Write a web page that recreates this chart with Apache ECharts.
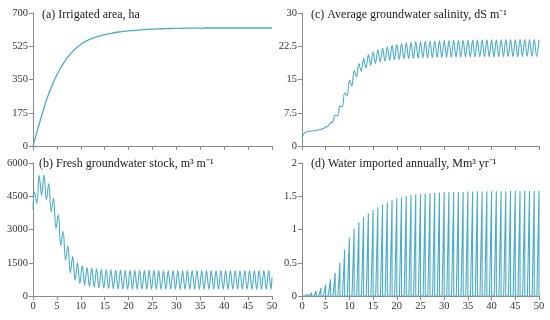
<!DOCTYPE html>
<html>
<head>
<meta charset="utf-8">
<script src="https://cdn.jsdelivr.net/npm/echarts@6/dist/echarts.min.js"></script>
<style>
html,body{margin:0;padding:0;background:#fff;}
#chart{width:550px;height:320px;}
</style>
</head>
<body>
<div id="chart"></div>
<script>
// ---- Data ----
const panelTitles = [
  "(a) Irrigated area, ha",
  "(b) Fresh groundwater stock, m\u00B3 m\u207B\u00B9",
  "(c) Average groundwater salinity, dS m\u207B\u00B9",
  "(d) Water imported annually, Mm\u00B3 yr\u207B\u00B9"
];
const xTicks = [0, 5, 10, 15, 20, 25, 30, 35, 40, 45, 50];
const yTicksA = [0, 175, 350, 525, 700];
const yTicksB = [0, 1500, 3000, 4500, 6000];
const yTicksC = [0, 7.5, 15, 22.5, 30];
const yTicksD = [0, 0.5, 1, 1.5, 2];

// (a) irrigated area at years 0..50
const irrigatedArea = [
  0, 90, 175, 255, 320, 375, 420, 458, 490, 515,
  535, 551, 563, 572, 580, 586, 591, 596, 600, 603,
  606, 608, 610, 612, 614, 615, 616, 617, 618, 618.5,
  619, 619.5, 620, 620, 620.5, 620.5, 621, 621, 621, 621,
  621, 621, 621, 621, 621, 621, 621, 621, 621, 621, 621
];

// (b) fresh groundwater stock: start, yearly peaks, yearly troughs, end
const stockStart = 3900;
const stockPeaks = [
  4700, 5450, 5470, 5070, 4420, 3670, 2920, 2260, 1790, 1500,
  1370, 1300, 1260, 1230, 1210, 1195, 1185, 1175, 1170, 1165,
  1162, 1160, 1158, 1156, 1155, 1154, 1153, 1152, 1151, 1150,
  1150, 1150, 1150, 1150, 1150, 1150, 1150, 1150, 1150, 1150,
  1150, 1150, 1150, 1150, 1150, 1150, 1150, 1150, 1150, 1150
];
const stockTroughs = [
  4180, 4540, 4350, 3790, 3040, 2290, 1610, 1040, 710, 560,
  480, 430, 395, 370, 350, 335, 325, 318, 312, 308,
  305, 303, 302, 301, 300, 300, 300, 300, 300, 300,
  300, 300, 300, 300, 300, 300, 300, 300, 300, 300,
  300, 300, 300, 300, 300, 300, 300, 300, 300, 300
];
const stockEnd = 850;

// (c) salinity: start, troughs (mid-year), peaks (end of year)
const salinityStart = 2.0;
const salinityTroughs = [
  2.9, 3.3, 3.45, 3.6, 3.95, 4.5, 5.5, 6.8, 8.8, 11.3,
  13.5, 15.6, 16.8, 17.6, 18.2, 18.6, 18.9, 19.1, 19.3, 19.45,
  19.55, 19.65, 19.7, 19.75, 19.8, 19.85, 19.9, 19.9, 19.95, 19.95,
  20.0, 20.0, 20.0, 20.05, 20.05, 20.05, 20.1, 20.1, 20.1, 20.1,
  20.1, 20.15, 20.15, 20.15, 20.15, 20.15, 20.2, 20.2, 20.2, 20.2
];
const salinityPeaks = [
  3.2, 3.4, 3.55, 3.8, 4.3, 5.2, 7.0, 9.0, 12.0, 14.8,
  17.0, 18.6, 19.7, 20.6, 21.2, 21.7, 22.1, 22.4, 22.7, 22.9,
  23.1, 23.3, 23.4, 23.5, 23.55, 23.6, 23.65, 23.7, 23.75, 23.8,
  23.8, 23.85, 23.85, 23.85, 23.9, 23.9, 23.9, 23.9, 23.95, 23.95,
  23.95, 23.95, 24.0, 24.0, 24.0, 24.0, 24.0, 24.0, 24.0, 24.0
];

// (d) water imported: annual peak values for years 1..50
const importPeaks = [
  0.02, 0.05, 0.08, 0.12, 0.17, 0.25, 0.35, 0.5, 0.7, 0.88,
  1.01, 1.11, 1.185, 1.245, 1.295, 1.335, 1.375, 1.41, 1.445, 1.47,
  1.485, 1.505, 1.52, 1.53, 1.535, 1.54, 1.545, 1.55, 1.555, 1.56,
  1.56, 1.565, 1.565, 1.565, 1.57, 1.57, 1.57, 1.57, 1.575, 1.575,
  1.575, 1.575, 1.575, 1.58, 1.58, 1.58, 1.58, 1.58, 1.58, 1.58
];

// ---- Build series point lists from the arrays ----
const seriesA = irrigatedArea.map((v, i) => [i, v]);

const seriesB = [[0, stockStart]];
for (let k = 0; k < stockPeaks.length; k++) {
  seriesB.push([k + 0.3, stockPeaks[k]]);
  seriesB.push([k + 0.8, stockTroughs[k]]);
}
seriesB.push([50, stockEnd]);

const seriesC = [[0, salinityStart]];
for (let k = 0; k < salinityPeaks.length; k++) {
  seriesC.push([k + 0.5, salinityTroughs[k]]);
  seriesC.push([k + 1, salinityPeaks[k]]);
}

const seriesD = [[0, 0]];
for (let k = 0; k < importPeaks.length; k++) {
  const yr = k + 1;
  seriesD.push([yr - 0.45, 0]);
  seriesD.push([yr, importPeaks[k]]);
  seriesD.push([yr, 0]);
}

// ---- Chart ----
const LINE = '#4BACC6';
const AXIS = '#8a8a8a';
const LABEL = '#333333';
const FONT = '"Liberation Serif", "Times New Roman", serif';

const grids = [
  { left: 33, top: 13, width: 239, height: 133 },
  { left: 33, top: 163, width: 239, height: 133 },
  { left: 302, top: 13, width: 237, height: 133 },
  { left: 302, top: 163, width: 237, height: 133 }
];
const yTickSets = [yTicksA, yTicksB, yTicksC, yTicksD];
const showXLabels = [false, true, false, true];

function plain(v) { return String(v); }

function xAxis(i) {
  return {
    type: 'value', gridIndex: i,
    min: xTicks[0], max: xTicks[xTicks.length - 1], interval: xTicks[1] - xTicks[0],
    axisLine: { show: true, lineStyle: { color: AXIS, width: 1 } },
    axisTick: { show: true, length: 4, lineStyle: { color: AXIS } },
    axisLabel: { show: showXLabels[i], color: LABEL, fontFamily: FONT, fontSize: 10.5, margin: 5, formatter: plain },
    splitLine: { show: false }
  };
}
function yAxis(i) {
  const t = yTickSets[i];
  return {
    type: 'value', gridIndex: i,
    min: t[0], max: t[t.length - 1], interval: t[1] - t[0],
    axisLine: { show: true, lineStyle: { color: AXIS, width: 1 } },
    axisTick: { show: true, length: 4, lineStyle: { color: AXIS } },
    axisLabel: { color: LABEL, fontFamily: FONT, fontSize: 10.5, margin: 5, formatter: plain },
    splitLine: { show: false }
  };
}

const titlePos = [
  { x: 42, y: 15 },
  { x: 39, y: 164 },
  { x: 311, y: 15 },
  { x: 311, y: 164 }
];

const chart = echarts.init(document.getElementById('chart'), null, { renderer: 'canvas' });
chart.setOption({
  animation: false,
  backgroundColor: '#ffffff',
  grid: grids,
  xAxis: [0, 1, 2, 3].map(xAxis),
  yAxis: [0, 1, 2, 3].map(yAxis),
  graphic: panelTitles.map((txt, i) => ({
    type: 'text', x: titlePos[i].x, y: titlePos[i].y, z: 10,
    style: { text: txt, fill: '#1a1a1a', font: '12px ' + FONT, verticalAlign: 'middle', align: 'left' }
  })),
  series: [
    { type: 'line', xAxisIndex: 0, yAxisIndex: 0, data: seriesA, showSymbol: false, smooth: true,
      lineStyle: { color: LINE, width: 1.3 } },
    { type: 'line', xAxisIndex: 1, yAxisIndex: 1, data: seriesB, showSymbol: false, smooth: 0.35,
      lineStyle: { color: LINE, width: 1.1 } },
    { type: 'line', xAxisIndex: 2, yAxisIndex: 2, data: seriesC, showSymbol: false, smooth: 0.35,
      lineStyle: { color: LINE, width: 1.1 } },
    { type: 'line', xAxisIndex: 3, yAxisIndex: 3, data: seriesD, showSymbol: false, smooth: false,
      lineStyle: { color: LINE, width: 1.1 } }
  ]
});
</script>
</body>
</html>
